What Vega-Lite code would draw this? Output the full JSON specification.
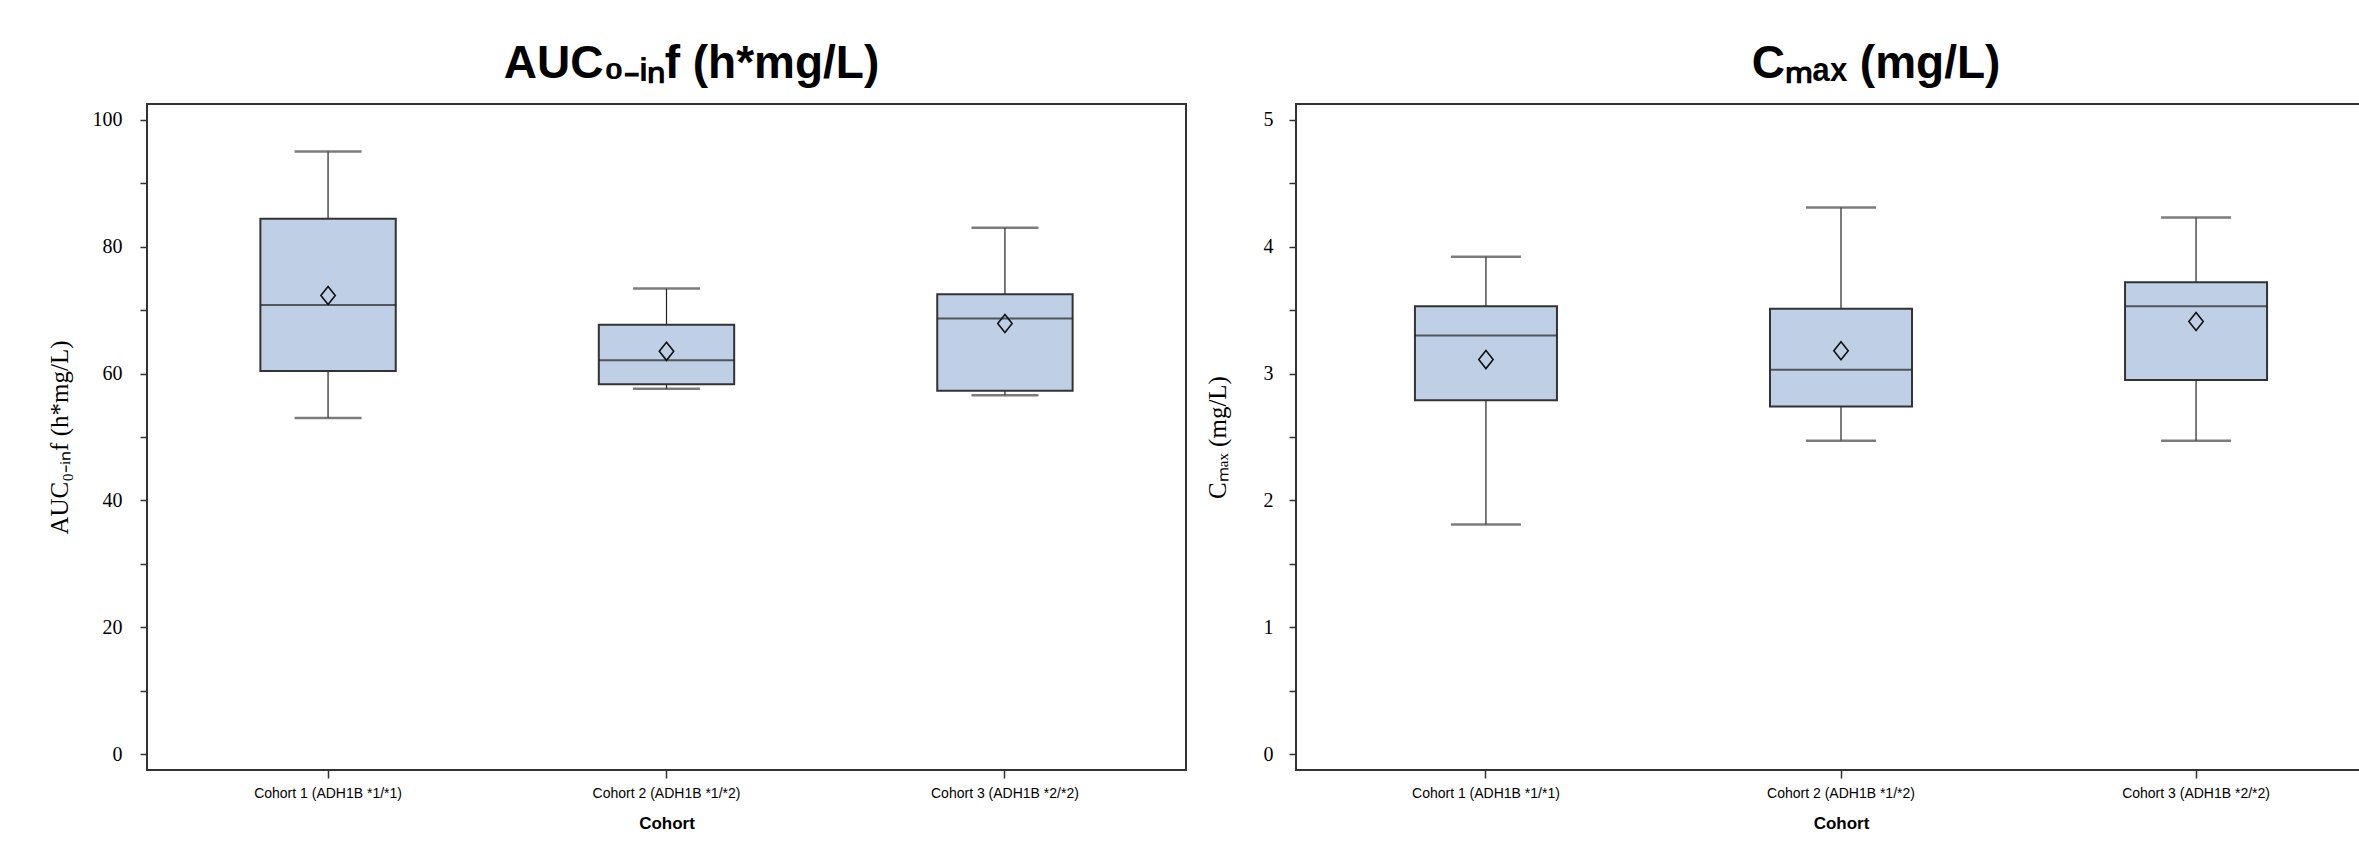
{
  "$schema": "https://vega.github.io/schema/vega-lite/v6.json",
  "padding": {"left": 46, "top": 40, "right": 0, "bottom": 0},
  "background": "white",
  "spacing": 17,
  "config": {
    "view": {"stroke": "#333", "strokeWidth": 2},
    "title": {"font": "Liberation Sans", "fontSize": 46, "fontWeight": "bold", "color": "black", "offset": 16},
    "axis": {"grid": false, "domain": false, "tickColor": "#333", "tickWidth": 1.5}
  },
  "datasets": {
    "auc": [
      {"cohort": "Cohort 1 (ADH1B *1/*1)", "min": 53.0, "q1": 60.4, "median": 70.8, "q3": 84.4, "max": 95.0, "mean": 72.3},
      {"cohort": "Cohort 2 (ADH1B *1/*2)", "min": 57.6, "q1": 58.3, "median": 62.1, "q3": 67.7, "max": 73.4, "mean": 63.5},
      {"cohort": "Cohort 3 (ADH1B *2/*2)", "min": 56.6, "q1": 57.3, "median": 68.7, "q3": 72.5, "max": 83.0, "mean": 67.9}
    ],
    "cmax": [
      {"cohort": "Cohort 1 (ADH1B *1/*1)", "min": 1.81, "q1": 2.79, "median": 3.30, "q3": 3.53, "max": 3.92, "mean": 3.11},
      {"cohort": "Cohort 2 (ADH1B *1/*2)", "min": 2.47, "q1": 2.74, "median": 3.03, "q3": 3.51, "max": 4.31, "mean": 3.18},
      {"cohort": "Cohort 3 (ADH1B *2/*2)", "min": 2.47, "q1": 2.95, "median": 3.53, "q3": 3.72, "max": 4.23, "mean": 3.41}
    ]
  },
  "hconcat": [
    {
      "width": 1039,
      "height": 666,
      "title": {"text": "AUC₀₋ᵢₙf (h*mg/L)", "dx": 25},
      "data": {"name": "auc"},
      "encoding": {
        "x": {
          "field": "cohort", "type": "nominal", "sort": null,
          "scale": {"paddingInner": 0.6, "paddingOuter": 0.335},
          "axis": {"labelAngle": 0, "labelFont": "Liberation Sans", "labelFontSize": 14, "labelColor": "black", "labelPadding": 8, "tickSize": 8, "title": "Cohort", "titleFont": "Liberation Sans", "titleFontSize": 17, "titleFontWeight": "bold", "titleColor": "black", "titlePadding": 15}
        }
      },
      "layer": [
        {
          "mark": {"type": "rule", "color": "#222", "strokeWidth": 1.2},
          "encoding": {
            "y": {"field": "min", "type": "quantitative", "title": "AUC₀₋ᵢₙf (h*mg/L)",
              "scale": {"domain": [-2.5, 102.5], "nice": false, "zero": false},
              "axis": {"values": [0,10,20,30,40,50,60,70,80,90,100], "labelExpr": "datum.value % 20 === 0 ? datum.label : ''", "labelFont": "Liberation Serif", "labelFontSize": 20, "labelColor": "black", "labelPadding": 18, "tickSize": 7, "titleFont": "Liberation Serif", "titleFontSize": 25, "titleFontWeight": "normal", "titleColor": "black", "titlePadding": 20}},
            "y2": {"field": "max"}
          }
        },
        {
          "mark": {"type": "tick", "color": "#444", "size": 67, "thickness": 2.5},
          "encoding": {"y": {"field": "min", "type": "quantitative", "title": "AUC₀₋ᵢₙf (h*mg/L)"}}
        },
        {
          "mark": {"type": "tick", "color": "#444", "size": 67, "thickness": 2.5},
          "encoding": {"y": {"field": "max", "type": "quantitative", "title": "AUC₀₋ᵢₙf (h*mg/L)"}}
        },
        {
          "mark": {"type": "bar", "fill": "#BFCFE6", "stroke": "#333", "strokeWidth": 2},
          "encoding": {"y": {"field": "q1", "type": "quantitative", "title": "AUC₀₋ᵢₙf (h*mg/L)"}, "y2": {"field": "q3"}}
        },
        {
          "mark": {"type": "tick", "color": "#222", "size": 135, "thickness": 2},
          "encoding": {"y": {"field": "median", "type": "quantitative", "title": "AUC₀₋ᵢₙf (h*mg/L)"}}
        },
        {
          "mark": {"type": "point", "shape": "M0,-1L0.8,0L0,1L-0.8,0Z", "size": 324, "filled": false, "stroke": "#111", "strokeWidth": 1.6, "opacity": 1},
          "encoding": {"y": {"field": "mean", "type": "quantitative", "title": "AUC₀₋ᵢₙf (h*mg/L)"}}
        }
      ]
    },
    {
      "width": 1090,
      "height": 666,
      "title": {"text": "Cₘₐₓ (mg/L)", "dx": 35},
      "data": {"name": "cmax"},
      "encoding": {
        "x": {
          "field": "cohort", "type": "nominal", "sort": null,
          "scale": {"paddingInner": 0.6, "paddingOuter": 0.335},
          "axis": {"labelAngle": 0, "labelFont": "Liberation Sans", "labelFontSize": 14, "labelColor": "black", "labelPadding": 8, "tickSize": 8, "title": "Cohort", "titleFont": "Liberation Sans", "titleFontSize": 17, "titleFontWeight": "bold", "titleColor": "black", "titlePadding": 15}
        }
      },
      "layer": [
        {
          "mark": {"type": "rule", "color": "#222", "strokeWidth": 1.2},
          "encoding": {
            "y": {"field": "min", "type": "quantitative", "title": "Cₘₐₓ (mg/L)",
              "scale": {"domain": [-0.125, 5.125], "nice": false, "zero": false},
              "axis": {"values": [0,0.5,1,1.5,2,2.5,3,3.5,4,4.5,5], "labelExpr": "datum.value % 1 === 0 ? format(datum.value, 'd') : ''", "labelFont": "Liberation Serif", "labelFontSize": 20, "labelColor": "black", "labelPadding": 16, "tickSize": 7, "titleFont": "Liberation Serif", "titleFontSize": 25, "titleFontWeight": "normal", "titleColor": "black", "titlePadding": 33}},
            "y2": {"field": "max"}
          }
        },
        {
          "mark": {"type": "tick", "color": "#444", "size": 70, "thickness": 2.5},
          "encoding": {"y": {"field": "min", "type": "quantitative", "title": "Cₘₐₓ (mg/L)"}}
        },
        {
          "mark": {"type": "tick", "color": "#444", "size": 70, "thickness": 2.5},
          "encoding": {"y": {"field": "max", "type": "quantitative", "title": "Cₘₐₓ (mg/L)"}}
        },
        {
          "mark": {"type": "bar", "fill": "#BFCFE6", "stroke": "#333", "strokeWidth": 2},
          "encoding": {"y": {"field": "q1", "type": "quantitative", "title": "Cₘₐₓ (mg/L)"}, "y2": {"field": "q3"}}
        },
        {
          "mark": {"type": "tick", "color": "#222", "size": 142, "thickness": 2},
          "encoding": {"y": {"field": "median", "type": "quantitative", "title": "Cₘₐₓ (mg/L)"}}
        },
        {
          "mark": {"type": "point", "shape": "M0,-1L0.8,0L0,1L-0.8,0Z", "size": 324, "filled": false, "stroke": "#111", "strokeWidth": 1.6, "opacity": 1},
          "encoding": {"y": {"field": "mean", "type": "quantitative", "title": "Cₘₐₓ (mg/L)"}}
        }
      ]
    }
  ]
}
